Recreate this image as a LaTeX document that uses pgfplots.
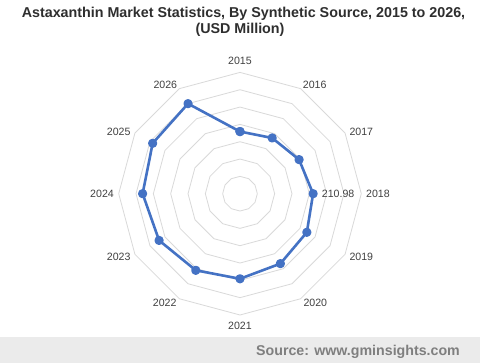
\documentclass[border=0pt]{standalone}
\usepackage{pgfplots}
\pgfplotsset{compat=1.18}
\usepgfplotslibrary{polar}
\usepackage{fontspec}
\setmainfont{Liberation Sans}
\definecolor{serblue}{HTML}{4472C4}
\definecolor{gridc}{HTML}{D9D9D9}
\definecolor{lblc}{HTML}{404040}
\definecolor{srcband}{HTML}{EBEBEB}
\definecolor{srctext}{HTML}{7F7F7F}
\begin{document}
\begin{tikzpicture}
\path[use as bounding box, fill=white] (0pt,0pt) rectangle (480pt,-363pt);
\fill[srcband] (0pt,-337pt) rectangle (480pt,-363pt);
\node[anchor=base east, text=srctext, font=\fontsize{14.2}{16}\selectfont\bfseries, inner sep=0pt] at (460pt,-356pt) {Source: www.gminsights.com};
\begin{scope}[every node/.style={anchor=base, inner sep=0pt, text=black!82, font=\fontsize{14.3}{16}\selectfont\bfseries}]
\node at (243.5pt,-17.3pt) {Astaxanthin Market Statistics, By Synthetic Source, 2015 to 2026,};
\node at (240pt,-34pt) {(USD Million)};
\end{scope}
\begin{polaraxis}[
  at={(240pt,-193.7pt)}, anchor=origin,
  scale only axis, width=242.6pt, height=242.6pt,
  ymin=0, ymax=350,
  xmin=0, xmax=360,
  clip=false,
  axis line style={draw=none},
  grid=none,
  major tick length=0pt,
  ytick=\empty,
  xtick=\empty,
]
\pgfplotsinvokeforeach{50,100,150,200,250,300,350}{
  \addplot[gridc, line width=0.8pt, mark=none] coordinates {(0,#1) (30,#1) (60,#1) (90,#1) (120,#1) (150,#1) (180,#1) (210,#1) (240,#1) (270,#1) (300,#1) (330,#1) (360,#1)};
}
\addplot[serblue, line width=2.6pt, mark=*, mark size=3.3pt, line join=round] coordinates {
  (90,179.3) (60,185.7) (30,196.8) (0,210.98) (330,222.7) (300,233.0)
  (270,245.5) (240,255.3) (210,269.6) (180,281.0) (150,291.0) (120,300.0) (90,179.3)
};
\end{polaraxis}
\begin{scope}[every node/.style={inner sep=0pt, text=lblc, font=\fontsize{10.6}{12}\selectfont}]
\node[anchor=base] at (240pt,-65pt) {2015};
\node[anchor=base west] at (302.7pt,-88.7pt) {2016};
\node[anchor=base west] at (349.3pt,-135.5pt) {2017};
\node[anchor=base west] at (366pt,-197.7pt) {2018};
\node[anchor=base west] at (349.3pt,-261pt) {2019};
\node[anchor=base west] at (303.3pt,-306.7pt) {2020};
\node[anchor=base] at (240pt,-330pt) {2021};
\node[anchor=base east] at (176.7pt,-306.7pt) {2022};
\node[anchor=base east] at (130.7pt,-261pt) {2023};
\node[anchor=base east] at (114pt,-197.7pt) {2024};
\node[anchor=base east] at (130.7pt,-135.5pt) {2025};
\node[anchor=base east] at (177.3pt,-88.7pt) {2026};
\node[anchor=base west] at (321.7pt,-197.7pt) {210.98};
\end{scope}
\end{tikzpicture}
\end{document}
